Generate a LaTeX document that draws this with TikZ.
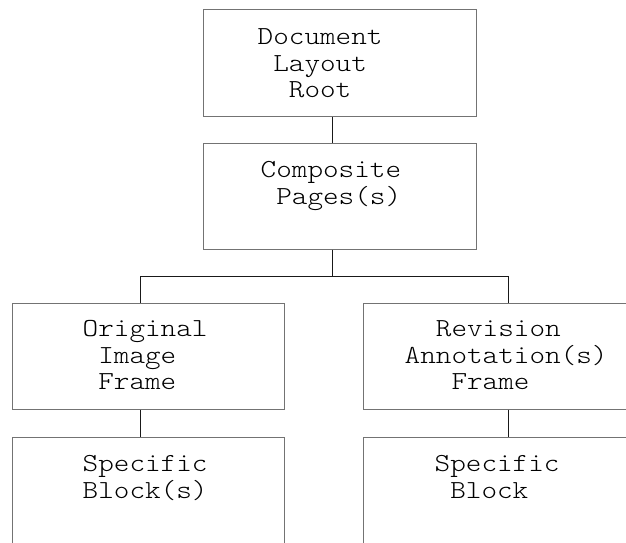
\documentclass[tikz,border=0pt]{standalone}
\usepackage{fontspec}
\setmonofont[FakeStretch=1.143]{lmmonolt10-regular.otf}
\begin{document}
\begin{tikzpicture}[x=1pt,y=-1pt]
        % Colors
        \colorlet{boxcolor}{black!55}
        \colorlet{linkcolor}{black!90}
        % Styles
        \tikzstyle{layout box}=[draw=boxcolor,line width=1pt,rectangle,inner sep=0pt,minimum width=272pt]
        \tikzstyle{box text}=[anchor=base west,inner sep=0pt,align=left,font={\ttfamily\fontsize{26}{26.5}\selectfont}]
        \tikzstyle{link}=[draw=linkcolor,line width=0.8pt]
        %The graphic
        \clip (0,0) rectangle (626,542);
        \node[layout box,minimum width=273pt,minimum height=107pt] (root) at (339.5,62.5) {};
        \node[layout box,minimum width=273pt,minimum height=106pt] (pages) at (339.5,196) {};
        \node[layout box,minimum height=106pt] (orig) at (148,356) {};
        \node[layout box,minimum height=106pt] (rev) at (499,356) {};
        \node[layout box,minimum height=123pt] (blockL) at (148,498.5) {};
        \node[layout box,minimum height=123pt] (blockR) at (499,498.5) {};
        % Texts (base is the last line)
        \node[box text] (rootText) at ([shift={(55,89)}]root.north west)
            {Document\\\hphantom{x}Layout\\\hphantom{xx}Root};
        \node[box text] (pagesText) at ([shift={(58,61.5)}]pages.north west)
            {Composite\\\hphantom{x}Pages(s)};
        \node[box text] (origText) at ([shift={(71,87)}]orig.north west)
            {Original\\\hphantom{x}Image\\\hphantom{x}Frame};
        \node[box text] (revText) at ([shift={(42,87)}]rev.north west)
            {\hphantom{xx}Revision\\Annotation(s)\\\hphantom{xxx}Frame};
        \node[box text] (blockLText) at ([shift={(71,61.5)}]blockL.north west)
            {Specific\\Block(s)};
        \node[box text] (blockRText) at ([shift={(72,61.5)}]blockR.north west)
            {Specific\\\hphantom{x}Block};
        % Links
        \draw[link] ([xshift=-7.5pt]root.south) -- ([xshift=-7.5pt]pages.north);
        \draw[link] ([xshift=-7.5pt]pages.south) -- ++(0,27) coordinate (bus) -| ([xshift=-8pt]orig.north);
        \draw[link] (bus) -| ([xshift=9pt]rev.north);
        \draw[link] ([xshift=-8pt]orig.south) -- ([xshift=-8pt]blockL.north);
        \draw[link] ([xshift=9pt]rev.south) -- ([xshift=9pt]blockR.north);
\end{tikzpicture}
\end{document}
